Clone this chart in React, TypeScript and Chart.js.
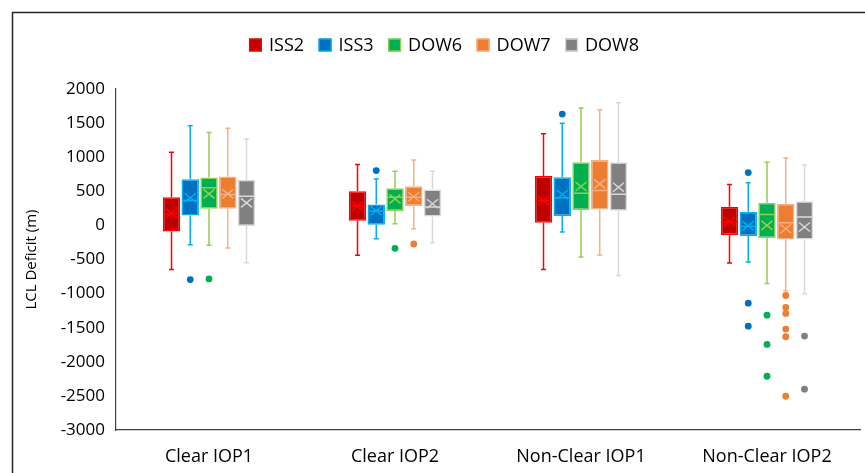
import React, { useEffect, useRef } from 'react';
import { Chart, registerables } from 'chart.js';

Chart.register(...registerables);

const categories = ['Clear IOP1', 'Clear IOP2', 'Non-Clear IOP1', 'Non-Clear IOP2'];
const seriesNames = ['ISS2', 'ISS3', 'DOW6', 'DOW7', 'DOW8'];
const fillColors = ['#C00000', '#0070C0', '#00B050', '#ED7D31', '#808080'];
const lineColors = ['#FF0000', '#00B0F0', '#92D050', '#F4B183', '#D9D9D9'];

// rows: series, columns: categories
const minValues = [
  [-648, -439, -648, -551],
  [-282, -195, -98, -536],
  [-292, 24, -463, -853],
  [-331, -49, -434, -960],
  [-546, -253, -736, -1004],
];
const q1Values = [
  [-88, 68, 39, -141],
  [146, 10, 136, -156],
  [243, 210, 224, -185],
  [243, 283, 234, -205],
  [-10, 132, 214, -205],
];
const medianValues = [
  [170, 283, 365, 49],
  [365, 210, 405, -15],
  [551, 414, 473, 161],
  [453, 414, 511, 39],
  [428, 268, 458, 122],
];
const q3Values = [
  [414, 502, 726, 273],
  [677, 307, 707, 200],
  [702, 546, 926, 331],
  [716, 575, 960, 317],
  [668, 526, 926, 355],
];
const maxValues = [
  [1072, 892, 1345, 599],
  [1462, 682, 1496, 624],
  [1364, 794, 1720, 926],
  [1423, 960, 1696, 989],
  [1267, 794, 1798, 887],
];
const meanValues = [
  [180, 283, 365, 60],
  [405, 215, 453, -5],
  [463, 390, 570, 0],
  [463, 420, 609, -49],
  [331, 317, 560, -24],
];
const outlierValues: number[][][] = [
  [[], [], [], []],
  [[-794], [804], [1633], [775, -1140, -1477]],
  [[-785], [-336], [], [-1316, -1745, -2212]],
  [[], [-273], [], [-1028, -1204, -1291, -1520, -1633, -2505]],
  [[], [], [], [-1623, -2402]],
];
const yMin = -3000;
const yMax = 2000;
const yStep = 500;

const FONT = "'Open Sans', 'DejaVu Sans', sans-serif";

const framePlugin = {
  id: 'frame',
  beforeDraw(chart: any) {
    const ctx = chart.ctx;
    ctx.save();
    ctx.fillStyle = '#ffffff';
    ctx.fillRect(0, 0, chart.width, chart.height);
    ctx.strokeStyle = '#262626';
    ctx.lineWidth = 1.5;
    ctx.beginPath();
    ctx.moveTo(12.5, chart.height);
    ctx.lineTo(12.5, 12.5);
    ctx.lineTo(chart.width, 12.5);
    ctx.stroke();
    ctx.restore();
  },
};

const legendPlugin = {
  id: 'customLegend',
  afterDraw(chart: any) {
    const ctx = chart.ctx;
    ctx.save();
    ctx.font = `18px ${FONT}`;
    const box = 13;
    const gapText = 7;
    const gapItem = 14.5;
    const widths = seriesNames.map((n) => ctx.measureText(n).width);
    const total = widths.reduce((a, w) => a + box + gapText + w, 0) + gapItem * (seriesNames.length - 1);
    let x = 444 - total / 2;
    const cy = 45;
    seriesNames.forEach((n, i) => {
      ctx.fillStyle = fillColors[i];
      ctx.fillRect(x, cy - box / 2, box, box);
      ctx.strokeStyle = lineColors[i];
      ctx.lineWidth = 1.2;
      ctx.strokeRect(x + 0.6, cy - box / 2 + 0.6, box - 1.2, box - 1.2);
      ctx.fillStyle = '#000000';
      ctx.textBaseline = 'middle';
      ctx.textAlign = 'left';
      ctx.fillText(n, x + box + gapText, cy + 1);
      x += box + gapText + widths[i] + gapItem;
    });
    ctx.restore();
  },
};

const boxPlugin = {
  id: 'boxExtras',
  afterDatasetsDraw(chart: any) {
    const ctx = chart.ctx;
    const ys = chart.scales.y;
    chart.data.datasets.forEach((_ds: any, i: number) => {
      const meta = chart.getDatasetMeta(i);
      meta.data.forEach((el: any, j: number) => {
        const { x, width } = el.getProps(['x', 'width'], true);
        const pMin = ys.getPixelForValue(minValues[i][j]);
        const pQ1 = ys.getPixelForValue(q1Values[i][j]);
        const pMed = ys.getPixelForValue(medianValues[i][j]);
        const pQ3 = ys.getPixelForValue(q3Values[i][j]);
        const pMax = ys.getPixelForValue(maxValues[i][j]);
        const pMean = ys.getPixelForValue(meanValues[i][j]);
        ctx.save();
        ctx.strokeStyle = lineColors[i];
        ctx.lineWidth = 1.5;
        ctx.beginPath();
        ctx.moveTo(x, pQ3);
        ctx.lineTo(x, pMax);
        ctx.moveTo(x, pQ1);
        ctx.lineTo(x, pMin);
        ctx.moveTo(x - 2.5, pMax);
        ctx.lineTo(x + 2.5, pMax);
        ctx.moveTo(x - 2.5, pMin);
        ctx.lineTo(x + 2.5, pMin);
        ctx.moveTo(x - width / 2 + 1, pMed);
        ctx.lineTo(x + width / 2 - 1, pMed);
        ctx.moveTo(x - 5.5, pMean - 4.5);
        ctx.lineTo(x + 5.5, pMean + 4.5);
        ctx.moveTo(x - 5.5, pMean + 4.5);
        ctx.lineTo(x + 5.5, pMean - 4.5);
        ctx.stroke();
        ctx.fillStyle = fillColors[i];
        outlierValues[i][j].forEach((v) => {
          const py = ys.getPixelForValue(v);
          ctx.beginPath();
          ctx.arc(x, py, 3.4, 0, Math.PI * 2);
          ctx.fill();
        });
        ctx.restore();
      });
    });
  },
};

export default function App() {
  const ref = useRef<HTMLCanvasElement | null>(null);
  useEffect(() => {
    if (!ref.current) return;
    const chart = new Chart(ref.current, {
      type: 'bar',
      data: {
        labels: categories,
        datasets: seriesNames.map((name, i) => ({
          label: name,
          data: categories.map((_, j) => [q1Values[i][j], q3Values[i][j]]) as any,
          backgroundColor: fillColors[i],
          borderColor: lineColors[i],
          borderWidth: 1.5,
          borderSkipped: false,
          categoryPercentage: 0.504,
          barPercentage: 0.93,
        })),
      },
      options: {
        responsive: false,
        animation: false,
        layout: { padding: { top: 89, left: 0, right: 5, bottom: 0 } },
        plugins: {
          legend: { display: false },
          tooltip: { enabled: false },
          title: { display: false },
        },
        scales: {
          x: {
            grid: { display: false, drawTicks: false },
            border: { display: true, color: '#404040', width: 1.2 },
            ticks: { font: { family: FONT, size: 18 }, color: '#000000', padding: 16 },
            afterFit: (s: any) => {
              s.height = 43;
            },
          },
          y: {
            min: yMin,
            max: yMax,
            grid: { display: false, drawTicks: false },
            border: { display: true, color: '#404040', width: 1.2 },
            ticks: {
              stepSize: yStep,
              font: { family: FONT, size: 17 },
              color: '#000000',
              padding: 11,
              callback: (v: any) => String(v),
            },
            title: {
              display: true,
              text: 'LCL Deficit (m)',
              font: { family: FONT, size: 15 },
              color: '#000000',
              padding: { top: 23, bottom: 0 },
            },
            afterFit: (s: any) => {
              s.width = 116;
            },
          },
        },
      },
      plugins: [framePlugin, boxPlugin, legendPlugin],
    });
    return () => chart.destroy();
  }, []);
  return (
    <div style={{ position: 'fixed', left: 0, top: 0, width: 865, height: 473 }}>
      <canvas ref={ref} width={865} height={473} />
    </div>
  );
}
